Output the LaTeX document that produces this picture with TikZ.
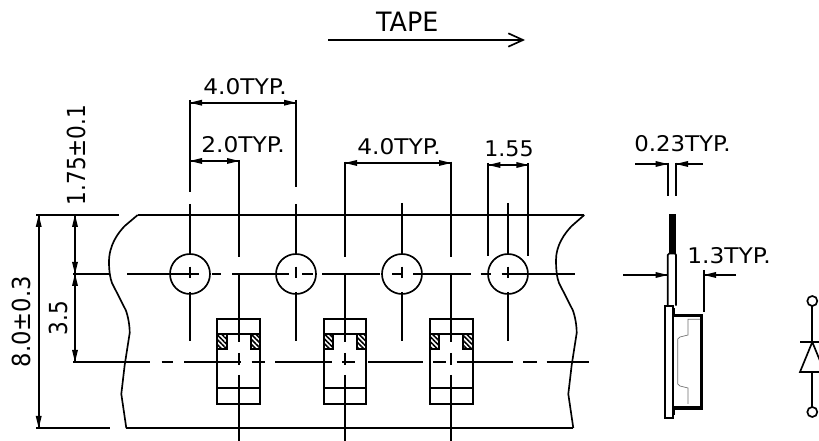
\documentclass[tikz,border=0pt]{standalone}
\usepackage{fontspec}
\setmainfont{DejaVu Sans}
\usetikzlibrary{patterns.meta}

\tikzset{
  cadline/.style={line width=1.25pt},
  thinline/.style={line width=0.5pt,color={rgb, 255:red, 110; green, 110; blue, 110 }},
  heavyline/.style={line width=2.6pt,line join=miter},
  tip/.style={fill={rgb, 255:red, 0; green, 0; blue, 0 },line width=0.08,draw opacity=0},
  pad/.style={cadline,pattern={Lines[angle=-45,distance=2.6pt,line width=1.2pt]}},
  cadtext/.style={anchor=north west,inner sep=0.75pt,xscale=1.08,font=\fontsize{16.2}{18}\selectfont},
  sidetext/.style={inner sep=0.75pt,rotate=90,yscale=1.15,font=\fontsize{16.2}{18}\selectfont}
}

\begin{document}
\begin{tikzpicture}[x=0.75pt,y=0.75pt,yscale=-1,xscale=1]
\clip (0,0) rectangle (819,441);

%Straight Lines: tape direction
\draw [cadline]   (328,40) -- (522,40) ;
\draw [cadline]   (508.3,33.3) -- (523,40) -- (508.3,46.7) ;

%Straight Lines: tape edges
\draw [cadline]   (137.7,215) -- (584.3,215) ;
\draw [cadline]   (126,428) -- (573.3,428) ;
%Curve Lines: torn ends
\draw [cadline]   (137.7,215) -- (124.7,226) .. controls (118,233) and (109,245) .. (109,262) .. controls (109,270) and (110,278) .. (112,283) -- (125.7,310) .. controls (128,316) and (129.7,325) .. (129.7,333) -- (124.7,365) -- (121.3,394) -- (126.3,428) ;
\draw [cadline]   (584.3,215) -- (571.7,226) .. controls (565,233) and (556,245) .. (556,260) .. controls (556,270) and (557,278) .. (559,283) -- (572.7,310) .. controls (575,316) and (576.7,325) .. (576.7,333) -- (571.7,365) -- (568.3,394) -- (573.3,428) ;

%Shape: Circle holes
\draw [cadline]   (190,274) circle (20) ;
\draw [cadline]   (296,274) circle (20) ;
\draw [cadline]   (402,274) circle (20) ;
\draw [cadline]   (508,274) circle (20) ;

%Straight Lines: centre line of the holes
\draw [cadline]   (73,274) -- (110,274) ;
\draw [cadline]   (127,274) -- (199,274) ;
\draw [cadline]   (212,274) -- (221,274) ;
\draw [cadline]   (232,274) -- (289,274) ;
\draw [cadline]   (302,274) -- (313,274) ;
\draw [cadline]   (322,274) -- (380,274) ;
\draw [cadline]   (392,274) -- (402,274) ;
\draw [cadline]   (413,274) -- (470.7,274) ;
\draw [cadline]   (480.7,274) -- (491,274) ;
\draw [cadline]   (501.7,274) -- (575,274) ;

%Straight Lines: centre line of the parts
\draw [cadline]   (73,362) -- (150,362) ;
\draw [cadline]   (161.7,362) -- (173.3,362) ;
\draw [cadline]   (184,362) -- (241,362) ;
\draw [cadline]   (251.7,362) -- (265,362) ;
\draw [cadline]   (275,362) -- (331.7,362) ;
\draw [cadline]   (342,362) -- (355,362) ;
\draw [cadline]   (368,362) -- (423.3,362) ;
\draw [cadline]   (433.3,362) -- (446,362) ;
\draw [cadline]   (456.7,362) -- (513.3,362) ;
\draw [cadline]   (523.3,362) -- (536.7,362) ;
\draw [cadline]   (546.7,362) -- (589.3,362) ;

%Straight Lines: verticals through the holes
\draw [cadline]   (190,100) -- (190,192) ;
\draw [cadline]   (190,204) -- (190,254) ;
\draw [cadline]   (190,266.7) -- (190,278) ;
\draw [cadline]   (190,292) -- (190,340.7) ;
\draw [cadline]   (296,100) -- (296,187) ;
\draw [cadline]   (296,204) -- (296,254) ;
\draw [cadline]   (296,266.7) -- (296,278) ;
\draw [cadline]   (296,292) -- (296,340.7) ;
\draw [cadline]   (402,203) -- (402,254) ;
\draw [cadline]   (402,266.7) -- (402,278) ;
\draw [cadline]   (402,292) -- (402,340.7) ;
\draw [cadline]   (508,203) -- (508,254) ;
\draw [cadline]   (508,266.7) -- (508,278) ;
\draw [cadline]   (508,292) -- (508,340.7) ;
\draw [cadline]   (488.3,163) -- (488.3,255.7) ;
\draw [cadline]   (528.3,163) -- (528.3,255.7) ;

%Straight Lines: verticals through the parts
\draw [cadline]   (239,160) -- (239,256.7) ;
\draw [cadline]   (239,274) -- (239,341.7) ;
\draw [cadline]   (239,353) -- (239,365) ;
\draw [cadline]   (239,375) -- (239,441) ;
\draw [cadline]   (345,161.7) -- (345,256.7) ;
\draw [cadline]   (345,274) -- (345,341.7) ;
\draw [cadline]   (345,353) -- (345,365) ;
\draw [cadline]   (345,375) -- (345,441) ;
\draw [cadline]   (451,161.7) -- (451,256.7) ;
\draw [cadline]   (451,274) -- (451,341.7) ;
\draw [cadline]   (451,353) -- (451,365) ;
\draw [cadline]   (451,375) -- (451,441) ;

%Shape: Rectangle parts
\draw [cadline]   (217.3,318.7) rectangle (260,404) ;
\draw [cadline]   (217.3,334.3) -- (260,334.3) ;
\draw [cadline]   (217.3,387.7) -- (260,387.7) ;
\draw [pad]   (217.3,334.3) rectangle (226.7,348.7) ;
\draw [pad]   (250.8,334.3) rectangle (260,348.7) ;
\draw [cadline]   (323.7,318.7) rectangle (366.3,404) ;
\draw [cadline]   (323.7,334.3) -- (366.3,334.3) ;
\draw [cadline]   (323.7,387.7) -- (366.3,387.7) ;
\draw [pad]   (323.7,334.3) rectangle (333,348.7) ;
\draw [pad]   (357,334.3) rectangle (366.3,348.7) ;
\draw [cadline]   (430,318.7) rectangle (472.7,404) ;
\draw [cadline]   (430,334.3) -- (472.7,334.3) ;
\draw [cadline]   (430,387.7) -- (472.7,387.7) ;
\draw [pad]   (430,334.3) rectangle (439.3,348.7) ;
\draw [pad]   (463.3,334.3) rectangle (472.7,348.7) ;

%Straight Lines: left dimensions
\draw [cadline]   (36,215) -- (119,215) ;
\draw [cadline]   (36,428) -- (109.7,428) ;
\draw [cadline]   (38.7,215) -- (38.7,428) ;
\draw [shift={(38.7,215)}, rotate = 90] [tip]  (12,-3) -- (0,0) -- (12,3) -- cycle    ;
\draw [shift={(38.7,428)}, rotate = 270] [tip]  (12,-3) -- (0,0) -- (12,3) -- cycle    ;
\draw [cadline]   (75,215) -- (75,362) ;
\draw [shift={(75,215)}, rotate = 90] [tip]  (12,-3) -- (0,0) -- (12,3) -- cycle    ;
\draw [shift={(75,274)}, rotate = 270] [tip]  (12,-3) -- (0,0) -- (12,3) -- cycle    ;
\draw [shift={(75,274)}, rotate = 90] [tip]  (12,-3) -- (0,0) -- (12,3) -- cycle    ;
\draw [shift={(75,362)}, rotate = 270] [tip]  (12,-3) -- (0,0) -- (12,3) -- cycle    ;

%Straight Lines: top dimensions
\draw [cadline]   (190,102.7) -- (296,102.7) ;
\draw [shift={(190,102.7)}, rotate = 0] [tip]  (12,-3) -- (0,0) -- (12,3) -- cycle    ;
\draw [shift={(296,102.7)}, rotate = 180] [tip]  (12,-3) -- (0,0) -- (12,3) -- cycle    ;
\draw [cadline]   (190,161) -- (239,161) ;
\draw [shift={(190,161)}, rotate = 0] [tip]  (12,-3) -- (0,0) -- (12,3) -- cycle    ;
\draw [shift={(239,161)}, rotate = 180] [tip]  (12,-3) -- (0,0) -- (12,3) -- cycle    ;
\draw [cadline]   (345,163) -- (451,163) ;
\draw [shift={(345,163)}, rotate = 0] [tip]  (12,-3) -- (0,0) -- (12,3) -- cycle    ;
\draw [shift={(451,163)}, rotate = 180] [tip]  (12,-3) -- (0,0) -- (12,3) -- cycle    ;
\draw [cadline]   (488.3,165) -- (528.3,165) ;
\draw [shift={(488.3,165)}, rotate = 0] [tip]  (12,-3) -- (0,0) -- (12,3) -- cycle    ;
\draw [shift={(528.3,165)}, rotate = 180] [tip]  (12,-3) -- (0,0) -- (12,3) -- cycle    ;

%Straight Lines: side view dimensions
\draw [cadline]   (667.7,162.7) -- (667.7,196) ;
\draw [cadline]   (676,162.7) -- (676,196) ;
\draw [cadline]   (635,164) -- (667.7,164) ;
\draw [shift={(667.7,164)}, rotate = 180] [tip]  (12,-3) -- (0,0) -- (12,3) -- cycle    ;
\draw [cadline]   (702.7,164) -- (676,164) ;
\draw [shift={(676,164)}, rotate = 0] [tip]  (12,-3) -- (0,0) -- (12,3) -- cycle    ;
\draw [cadline]   (623,275) -- (667.7,275) ;
\draw [shift={(667.7,275)}, rotate = 180] [tip]  (12,-3) -- (0,0) -- (12,3) -- cycle    ;
\draw [cadline]   (704,270) -- (704,311.7) ;
\draw [cadline]   (736,275) -- (704,275) ;
\draw [shift={(704,275)}, rotate = 0] [tip]  (12,-3) -- (0,0) -- (12,3) -- cycle    ;

%Shape: side view of the part
\draw [fill={rgb, 255:red, 0; green, 0; blue, 0 }  ,fill opacity=1 ] (669.2,214) rectangle (675,253.5) ;
\draw [cadline]   (667.7,305.7) -- (667.7,255) -- (669.2,253.5) -- (675,253.5) -- (676,255) -- (676,305.7) ;
\draw [cadline]   (665,305.7) rectangle (673.3,417.7) ;
\draw [heavyline]   (673.3,308) -- (673.3,315.5) -- (701.5,315.5) -- (701.5,408) -- (673.3,408) -- (673.3,415) ;
\draw [thinline]   (700,319.3) -- (688,319.3) -- (688,335) -- (680,337) -- (677.7,339) -- (677.7,384) -- (680,386) -- (688,388) -- (688,404) ;

%Shape: diode symbol
\draw [cadline]   (812.3,301) circle (5) ;
\draw [cadline]   (812.3,412) circle (5) ;
\draw [cadline]   (812.3,306) -- (812.3,342) ;
\draw [cadline]   (812.3,372) -- (812.3,407) ;
\draw [cadline]   (800,342) -- (824.6,342) ;
\draw [cadline]   (812.3,342) -- (800,372) -- (824.6,372) -- cycle ;

% Text Node
\draw (375,11) node (tapelabel) [cadtext,font=\fontsize{20}{22}\selectfont,xscale=0.88]  {TAPE};
% Text Node
\draw (202,77) node (pitchtop) [cadtext]  {4.0TYP.};
% Text Node
\draw (200,135) node (halfpitch) [cadtext]  {2.0TYP.};
% Text Node
\draw (356,137) node (pitchpart) [cadtext]  {4.0TYP.};
% Text Node
\draw (483,139) node (holesize) [cadtext,xscale=0.95]  {1.55};
% Text Node
\draw (633,134) node (leadwidth) [cadtext,xscale=0.98]  {0.23TYP.};
% Text Node
\draw (686,246) node (bodywidth) [cadtext]  {1.3TYP.};
% Text Node
\draw (76.5,155) node (holeedge) [sidetext]  {1.75±0.1};
% Text Node
\draw (21.5,321.5) node (tapewidth) [sidetext,xscale=1.05]  {8.0±0.3};
% Text Node
\draw (58,318) node (holepart) [sidetext]  {3.5};

\end{tikzpicture}
\end{document}
